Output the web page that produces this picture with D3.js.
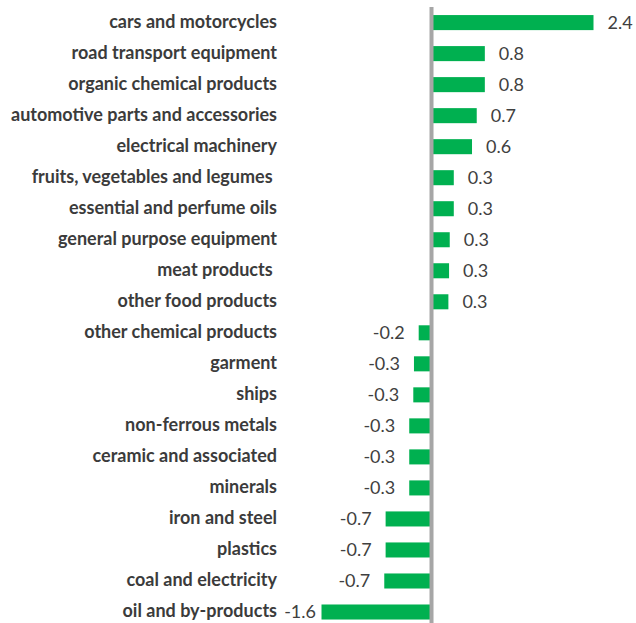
<!DOCTYPE html>
<html>
<head>
<meta charset="utf-8">
<script src="https://cdn.jsdelivr.net/npm/d3@7"></script>
<style>
  body { margin: 0; background: #fff; }
  text { font-family: Lato, "Open Sans", sans-serif; white-space: pre; }
</style>
</head>
<body>
<svg></svg>
<script>
const categories = [
  "cars and motorcycles", "road transport equipment", "organic chemical products",
  "automotive parts and accessories", "electrical machinery", "fruits, vegetables and legumes ",
  "essential and perfume oils", "general purpose equipment", "meat products ",
  "other food products", "other chemical products", "garment", "ships",
  "non-ferrous metals", "ceramic and associated", "minerals", "iron and steel",
  "plastics", "coal and electricity", "oil and by-products"
];
const values = [
  2.4, 0.79, 0.79, 0.67, 0.6, 0.33, 0.33, 0.27, 0.26, 0.25,
  -0.19, -0.26, -0.27, -0.33, -0.33, -0.33, -0.68, -0.68, -0.7, -1.63
];

const width = 636, height = 623;
const data = categories.map((c, i) => ({ name: c, value: values[i] }));

const svg = d3.select("svg")
    .attr("width", width)
    .attr("height", height);

const x = d3.scaleLinear()
    .domain([-1.63, 2.4])
    .range([321.5, 593.5]);

const y = d3.scaleBand()
    .domain(categories)
    .range([7, 627.6])
    .paddingInner(0.515)
    .paddingOuter(0.26);

const plotLeft = 286;
const fmt = d3.formatLocale({ decimal: ".", thousands: ",", grouping: [3], currency: ["", ""], minus: "-" }).format(".1f");

// bars
svg.append("g").selectAll("rect")
    .data(data)
  .enter().append("rect")
    .attr("x", d => x(Math.min(0, d.value)))
    .attr("y", d => y(d.name))
    .attr("width", d => Math.abs(x(d.value) - x(0)))
    .attr("height", y.bandwidth())
    .attr("fill", "#00b050");

// zero line
svg.append("line")
    .attr("x1", x(0)).attr("x2", x(0))
    .attr("y1", 7).attr("y2", 630)
    .attr("stroke", "#a6a6a6")
    .attr("stroke-width", 4);

// category labels
svg.append("g").selectAll("text")
    .data(data)
  .enter().append("text")
    .attr("x", 277)
    .attr("y", d => y(d.name) + y.bandwidth() / 2 - 1)
    .attr("dy", "0.35em")
    .attr("text-anchor", "end")
    .attr("font-size", 18)
    .attr("font-weight", "bold")
    .attr("fill", "#3b3b3b")
    .text(d => d.name);

// value labels
svg.append("g").selectAll("text")
    .data(data)
  .enter().append("text")
    .attr("x", d => d.value >= 0 ? x(d.value) + 14 : Math.max(x(d.value) - 14, plotLeft + 30))
    .attr("y", d => y(d.name) + y.bandwidth() / 2)
    .attr("dy", "0.35em")
    .attr("text-anchor", d => d.value >= 0 ? "start" : "end")
    .attr("font-size", 18)
    .attr("fill", "#404040")
    .text(d => fmt(d.value));
</script>
</body>
</html>
